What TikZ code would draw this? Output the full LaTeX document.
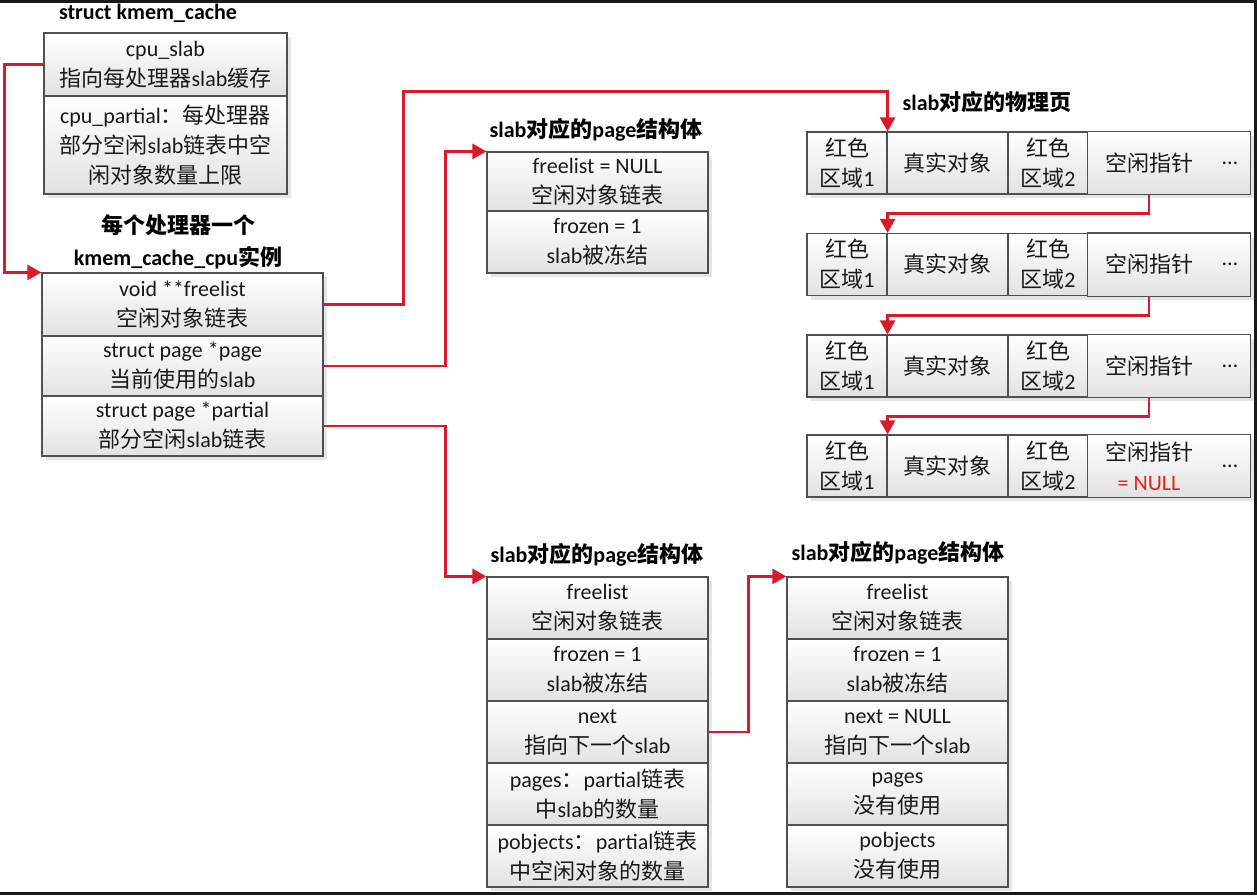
\documentclass[tikz,border=0pt]{standalone}
\usepackage{fontspec}
\setmainfont{Carlito}
\newfontfamily\zhfont{Noto Sans CJK SC}
\usepackage{xcolor}
\usepackage{tikz}
\usetikzlibrary{arrows.meta, positioning, shadows}
% Chinese characters switch to the CJK font on their own
\XeTeXinterchartokenstate=1
\newXeTeXintercharclass\zhclass
\newcount\zhcode
\zhcode="3000 \loop \XeTeXcharclass\zhcode=\zhclass \advance\zhcode by 1 \ifnum\zhcode<"3040 \repeat
\zhcode="4E00 \loop \XeTeXcharclass\zhcode=\zhclass \advance\zhcode by 1 \ifnum\zhcode<"A000 \repeat
\zhcode="FF00 \loop \XeTeXcharclass\zhcode=\zhclass \advance\zhcode by 1 \ifnum\zhcode<"FFF0 \repeat
\XeTeXinterchartoks 0 \zhclass = {\begingroup\zhfont}
\XeTeXinterchartoks 4095 \zhclass = {\begingroup\zhfont}
\XeTeXinterchartoks \zhclass 0 = {\endgroup}
\XeTeXinterchartoks \zhclass 4095 = {\endgroup}
\newcommand\bodyfont{\fontsize{11}{15}\selectfont}
\newcommand\titlefont{\fontsize{11}{16}\selectfont\bfseries}
\definecolor{linkred}{RGB}{218,26,42}
\definecolor{nullred}{RGB}{230,30,30}
\definecolor{cellline}{RGB}{80,80,80}
\definecolor{cellshade}{RGB}{226,226,226}
\begin{document}
\begin{tikzpicture}[
  x=0.5pt, y=-0.5pt,
  cell/.style={
    rectangle, draw=cellline, line width=0.6pt,
    top color=white, bottom color=cellshade,
    drop shadow={shadow xshift=2pt, shadow yshift=-2pt, fill=black!10, opacity=1},
    inner sep=0pt, align=center, font=\bodyfont, text=black!90
  },
  bare/.style={cell, draw=none},
  headline/.style={font=\titlefont, align=center, inner sep=0pt, text=black},
  arrow/.style={-{Triangle[length=7pt, width=7.5pt]}, line width=1.3pt, draw=linkred},
  frame/.style={line width=1.5pt, draw=black!90},
  kmemcell/.style={cell, minimum width=121.5pt},
  cpucell/.style={cell, minimum width=140.5pt, minimum height=30pt},
  pagecell/.style={cell, minimum width=110.5pt, minimum height=31pt},
  redcell/.style={cell, minimum width=40pt, minimum height=31pt},
  objcell/.style={cell, minimum width=60.5pt, minimum height=31pt},
  ptrcell/.style={bare, minimum width=61pt, minimum height=31pt},
  dotcell/.style={bare, minimum width=20pt, minimum height=31pt}
]
\useasboundingbox (0,0) rectangle (1257,895);
\draw[frame] (0,1.5) -- (1255.5,1.5) -- (1255.5,893.5) -- (0,893.5);

% ---- struct kmem_cache ----
\node[headline] (kmemtitle) at (148,13) {struct kmem\_cache};
\node[kmemcell, minimum height=31.5pt] (kmemslab) at (165.5,64.5) {cpu\_slab\\指向每处理器slab缓存};
\node[kmemcell, minimum height=49pt]   (kmempart) at (165.5,145)  {cpu\_partial：每处理器\\部分空闲slab链表中空\\闲对象数量上限};

% ---- kmem_cache_cpu ----
\node[headline] (cputitle) at (178,242) {每个处理器一个\\kmem\_cache\_cpu实例};
\node[cpucell, minimum height=31.5pt] (cpufree) at (182.5,304.5) {void **freelist\\空闲对象链表};
\node[cpucell] (cpupage) at (182.5,366) {struct page *page\\当前使用的slab};
\node[cpucell] (cpupart) at (182.5,426) {struct page *partial\\部分空闲slab链表};

% ---- current slab page ----
\node[headline] (pg1title) at (596,130) {slab对应的page结构体};
\node[pagecell, minimum height=29.5pt] (pg1free) at (597.5,181.5) {freelist = NULL\\空闲对象链表};
\node[pagecell] (pg1frozen) at (597.5,242) {frozen = 1\\slab被冻结};

% ---- physical pages ----
\node[headline] (phystitle) at (987,102) {slab对应的物理页};

\node[redcell] (red1a) at (847,163)    {红色\\区域1};
\node[objcell] (obja)  at (947.5,163)  {真实对象};
\node[redcell] (red2a) at (1048,163)   {红色\\区域2};
\node[ptrcell] (ptr1)  at (1149,163)   {空闲指针};
\node[dotcell] (dots1) at (1230,163)   {…};
\draw[cellline, line width=0.6pt] (ptr1.north west) rectangle (dots1.south east);

\node[redcell] (red1b) at (847,264.5)   {红色\\区域1};
\node[objcell] (objb)  at (947.5,264.5) {真实对象};
\node[redcell] (red2b) at (1048,264.5)  {红色\\区域2};
\node[ptrcell] (ptr2)  at (1149,264.5)  {空闲指针};
\node[dotcell] (dots2) at (1230,264.5)  {…};
\draw[cellline, line width=0.6pt] (ptr2.north west) rectangle (dots2.south east);

\node[redcell] (red1c) at (847,366)   {红色\\区域1};
\node[objcell] (objc)  at (947.5,366) {真实对象};
\node[redcell] (red2c) at (1048,366)  {红色\\区域2};
\node[ptrcell] (ptr3)  at (1149,366)  {空闲指针};
\node[dotcell] (dots3) at (1230,366)  {…};
\draw[cellline, line width=0.6pt] (ptr3.north west) rectangle (dots3.south east);

\node[redcell] (red1d) at (847,466)   {红色\\区域1};
\node[objcell] (objd)  at (947.5,466) {真实对象};
\node[redcell] (red2d) at (1048,466)  {红色\\区域2};
\node[ptrcell] (ptr4)  at (1149,466)  {空闲指针\\\textcolor{nullred}{= NULL}};
\node[dotcell] (dots4) at (1230,466)  {…};
\draw[cellline, line width=0.6pt] (ptr4.north west) rectangle (dots4.south east);

% ---- partial list: first slab ----
\node[headline] (pgAtitle) at (597,555) {slab对应的page结构体};
\node[pagecell] (pgAfree)   at (597.5,608) {freelist\\空闲对象链表};
\node[pagecell] (pgAfrozen) at (597.5,670) {frozen = 1\\slab被冻结};
\node[pagecell] (pgAnext)   at (597.5,732) {next\\指向下一个slab};
\node[pagecell] (pgApages)  at (597.5,794) {pages：partial链表\\中slab的数量};
\node[pagecell] (pgAobj)    at (597.5,856) {pobjects：partial链表\\中空闲对象的数量};

% ---- partial list: next slab ----
\node[headline] (pgBtitle) at (898,553) {slab对应的page结构体};
\node[pagecell] (pgBfree)   at (897.5,608) {freelist\\空闲对象链表};
\node[pagecell] (pgBfrozen) at (897.5,670) {frozen = 1\\slab被冻结};
\node[pagecell] (pgBnext)   at (897.5,732) {next = NULL\\指向下一个slab};
\node[pagecell] (pgBpages)  at (897.5,794) {pages\\没有使用};
\node[pagecell] (pgBobj)    at (897.5,856) {pobjects\\没有使用};

% ---- red links ----
\draw[arrow] (kmemslab.west) -- ++(-39,0) |- (cpufree.north west);
\draw[arrow] (cpufree.east) -- ++(80,0) -- ++(0,-213) -| (red1a.north east);
\draw[arrow] (cpupage.east) -- ++(122,0) |- (pg1free.north west);
\draw[arrow] (cpupart.east) -- ++(122,0) |- (pgAfree.north west);
\draw[arrow] (pgAnext.east) -- ++(40,0) |- (pgBfree.north west);

\draw[arrow] (ptr1.south) -- ++(0,19) -| (red1b.north east);
\draw[arrow] (ptr2.south) -- ++(0,19.5) -| (red1c.north east);
\draw[arrow] (ptr3.south) -- ++(0,19) -| (red1d.north east);

\end{tikzpicture}
\end{document}
